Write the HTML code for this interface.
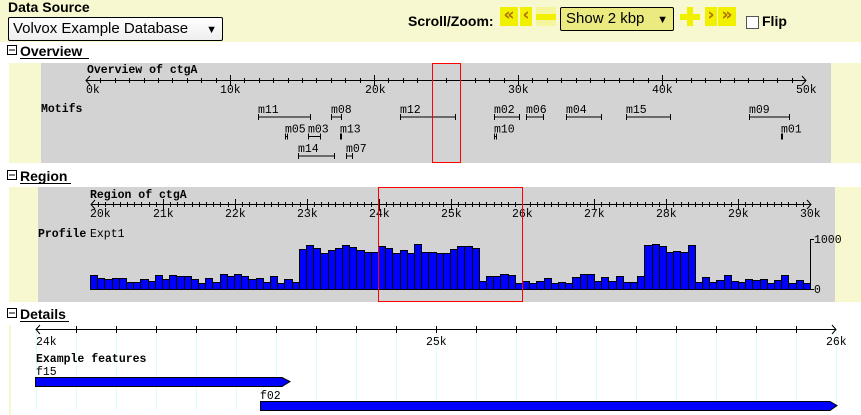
<!DOCTYPE html>
<html><head><meta charset="utf-8"><style>
html,body{margin:0;padding:0;background:#fff;width:861px;height:415px;overflow:hidden}
body{font-family:"Liberation Sans",sans-serif;position:relative}
.abs{position:absolute}
svg text{font-family:"Liberation Mono","DejaVu Sans Mono",monospace;font-size:11.5px}
.btn{position:absolute;top:7px;height:19px;background:#f0f000;color:#b07000;font-size:17px;font-weight:bold;line-height:17px;text-align:center;font-family:"DejaVu Sans",sans-serif}
</style></head><body>
<div class="abs" style="left:0;top:0;width:861px;height:42px;background:#f7f7d0"></div>
<div class="abs" style="left:8px;top:-1px;font-weight:bold;font-size:14px">Data Source</div>
<div class="abs" style="left:8px;top:17px;height:24px;border:1px solid #000;border-radius:2px;background:linear-gradient(#fff,#eee);font-size:15px;line-height:22px;padding-left:4px;box-sizing:border-box;width:215px">Volvox Example Database<span style="position:absolute;right:5px;top:1px;font-size:11px">▼</span></div>
<div class="abs" style="left:408px;top:13px;font-weight:bold;font-size:14px">Scroll/Zoom:</div>
<div class="btn" style="left:500px;width:18px">«</div>
<div class="btn" style="left:520px;width:12px">‹</div>
<div class="abs" style="left:536px;top:7px;width:20px;height:19px;background:#f5f5a0"><div style="margin-top:7px;height:6px;background:#f0f000"></div></div>
<div class="abs" style="left:560px;top:7px;width:114px;height:24px;border:1px solid #000;border-radius:2px;background:#eaea80;box-sizing:border-box;font-size:15px;line-height:22px;padding-left:5px">Show 2 kbp<span style="position:absolute;right:5px;top:1px;font-size:11px">▼</span></div>
<div class="abs" style="left:680px;top:7px;width:20px;height:19px;background:#f7f7d0"><div class="abs" style="left:0;top:7px;width:20px;height:6px;background:#f0f000"></div><div class="abs" style="left:7px;top:0;width:6px;height:19px;background:#f0f000"></div></div>
<div class="btn" style="left:705px;width:12px">›</div>
<div class="btn" style="left:718px;width:18px">»</div>
<div class="abs" style="left:746px;top:16px;width:11px;height:11px;border:1px solid #555;background:#fff"></div>
<div class="abs" style="left:762px;top:13px;font-weight:bold;font-size:14px">Flip</div>

<svg class="abs" style="left:0;top:0" width="861" height="415" xmlns="http://www.w3.org/2000/svg">
<g stroke="#000" fill="none" stroke-width="1">
<rect x="7.5" y="45.5" width="9" height="9"/><line x1="9" y1="50" x2="15" y2="50"/>
<rect x="7.5" y="170.5" width="9" height="9"/><line x1="9" y1="175" x2="15" y2="175"/>
<rect x="7.5" y="308.5" width="9" height="9"/><line x1="9" y1="313" x2="15" y2="313"/>
</g>
<text x="20" y="56" style="font-family:'Liberation Sans',sans-serif;font-size:14px;font-weight:bold">Overview</text>
<text x="20" y="181" style="font-family:'Liberation Sans',sans-serif;font-size:14px;font-weight:bold">Region</text>
<text x="20" y="319" style="font-family:'Liberation Sans',sans-serif;font-size:14px;font-weight:bold">Details</text>
<line x1="20" y1="58.5" x2="89" y2="58.5" stroke="#000"/>
<line x1="20" y1="183.5" x2="71" y2="183.5" stroke="#000"/>
<line x1="20" y1="321.5" x2="69" y2="321.5" stroke="#000"/>

<rect x="9" y="63" width="852" height="100" fill="#f7f7d0"/>
<rect x="41" y="63" width="790" height="100" fill="#d3d3d3"/>
<text x="87" y="73" font-weight="bold">Overview of ctgA</text>
<line x1="86" y1="80.5" x2="806" y2="80.5" stroke="#000"/>
<path d="M90 76 L86 80.5 L90 85 M802 76 L806 80.5 L802 85" stroke="#000" fill="none"/>
<g id="ovt" stroke="#000"></g>
<text x="86" y="93">0k</text><text x="220" y="93">10k</text><text x="365" y="93">20k</text><text x="508" y="93">30k</text><text x="652" y="93">40k</text><text x="796" y="93">50k</text>
<text x="41" y="112" font-weight="bold">Motifs</text>
<g id="motifs" stroke="#000"></g>
<rect x="432.5" y="63.5" width="28" height="99" fill="none" stroke="#f00"/>

<rect x="9" y="187" width="852" height="115" fill="#f7f7d0"/>
<rect x="38" y="187" width="797" height="115" fill="#d3d3d3"/>
<text x="90" y="198" font-weight="bold">Region of ctgA</text>
<line x1="91" y1="204.5" x2="811" y2="204.5" stroke="#000"/>
<path d="M95 200 L91 204.5 L95 209 M807 200 L811 204.5 L807 209" stroke="#000" fill="none"/>
<g id="rgt" stroke="#000"></g>
<g id="rgl"></g>
<text x="38" y="237" font-weight="bold">Profile</text>
<text x="90" y="237">Expt1</text>
<g id="bars" fill="#0000ff" stroke="#000"></g>
<path d="M814 239.5 L810.5 239.5 L810.5 289.5 L814 289.5" stroke="#000" fill="none"/>
<text x="814" y="243">1000</text><text x="814" y="293">0</text>
<rect x="378.5" y="187.5" width="144" height="114" fill="none" stroke="#f00"/>

<rect x="9" y="325" width="2" height="90" fill="#f7f7d0"/>
<g id="dg"></g>
<line x1="36" y1="329.5" x2="836" y2="329.5" stroke="#000"/>
<path d="M40 325 L36 329.5 L40 334 M832 325 L836 329.5 L832 334" stroke="#000" fill="none"/>
<text x="36" y="345">24k</text><text x="426" y="345">25k</text><text x="826" y="345">26k</text>
<text x="36" y="362" font-weight="bold">Example features</text>
<text x="36" y="375">f15</text>
<path d="M35.5 377.5 H282 L290 381.5 L282 386.5 H35.5 Z" fill="#0000ff" stroke="#000"/>
<text x="260" y="399">f02</text>
<path d="M260.5 401.5 H830 L837 405.5 L830 410.5 H260.5 Z" fill="#0000ff" stroke="#000"/>
</svg>
<script>
var NS="http://www.w3.org/2000/svg";
function el(p,t,a,txt){var e=document.createElementNS(NS,t);for(var k in a)e.setAttribute(k,a[k]);if(txt)e.textContent=txt;document.getElementById(p).appendChild(e);}
for(var i=1;i<50;i++){var x=Math.round(86+i*14.4)+0.5;var big=i%10==0;el("ovt","line",{x1:x,x2:x,y1:big?75:78,y2:big?86:83});}
for(var i=1;i<100;i++){var x=Math.round(91+i*7.19)+0.5;var big=i%10==0;el("rgt","line",{x1:x,x2:x,y1:big?199:202,y2:big?210:207});}
for(var i=1;i<10;i++){el("rgl","text",{x:Math.round(91+i*71.9)-10,y:217},(20+i)+"k");}
el("rgl","text",{x:90,y:217},"20k");el("rgl","text",{x:800,y:217},"30k");
for(var i=0;i<=20;i++){var x=36+i*40+0.5;el("dg","line",{x1:x,x2:x,y1:330,y2:411,stroke:"#d8ffff"});if(i>0&&i<20)el("dg","line",{x1:x,x2:x,y1:326,y2:333,stroke:"#000"});}
var m=[["m11",258,310,0],["m08",331,341,0],["m12",400,455,0],["m02",494,519,0],["m06",526,543,0],["m04",566,601,0],["m15",626,670,0],["m09",749,789,0],
["m05",285,287,1],["m03",308,320,1],["m13",340,341,1],["m10",494,496,1],["m01",781,782,1],["m14",298,334,2],["m07",346,352,2]];
m.forEach(function(a){var y=117+a[3]*19.5;var x1=a[1]+0.5,x2=a[2]+0.5;el("motifs","text",{x:a[1],y:y-4,stroke:"none"},a[0]);
el("motifs","line",{x1:x1,x2:x2,y1:y,y2:y});el("motifs","line",{x1:x1,x2:x1,y1:y-3,y2:y+3});el("motifs","line",{x1:x2,x2:x2,y1:y-3,y2:y+3});});
var h=[14,11,10,11,11,7,7,10,8,14,10,14,13,13,10,6,11,7,15,13,15,13,10,11,7,13,6,10,7,
40,44,41,36,39,41,44,42,39,37,37,43,41,36,39,36,45,37,37,36,36,40,43,43,41,
8,13,13,15,14,6,8,6,8,11,6,7,6,12,15,15,8,12,8,13,7,7,13,44,45,43,37,38,37,44,7,12,7,9,14,8,7,10,9,10,6,9,14,6,9,6];
h.forEach(function(v,i){var x1=Math.round(90+i*7.2),x2=Math.round(90+(i+1)*7.2);el("bars","rect",{x:x1+0.5,y:289.5-v,width:x2-x1,height:v});});
</script>
</body></html>
